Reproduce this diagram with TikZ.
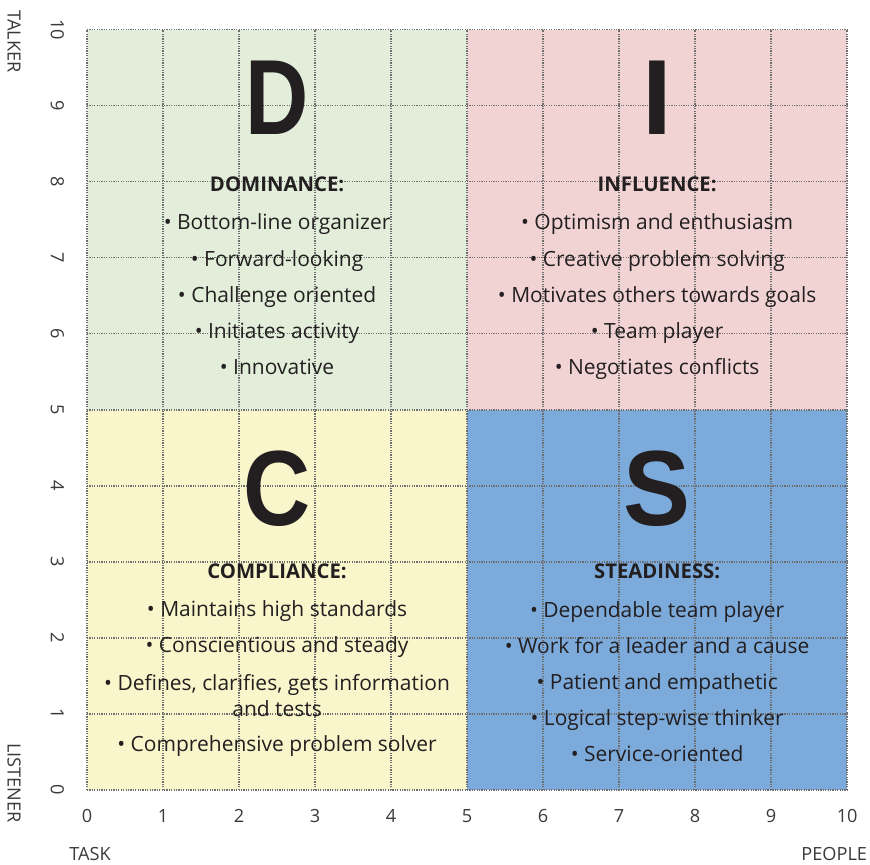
\documentclass[tikz,border=0pt]{standalone}
\usepackage{fontspec}
\usepackage{graphicx}
\setmainfont{Open Sans}
\newfontfamily\bigfont{Liberation Sans}
\usepackage{tikz}

\definecolor{domgreen}{HTML}{E2EEDA}
\definecolor{infpink}{HTML}{F1D3D4}
\definecolor{comyellow}{HTML}{FAF6CB}
\definecolor{stdblue}{HTML}{7BAADB}
\definecolor{ink}{HTML}{231F20}
\definecolor{gridgray}{HTML}{6E6E6E}
\definecolor{axisgray}{HTML}{3A3A3A}

\newcommand\squeeze[2]{\scalebox{#1}[1]{#2}}

\tikzset{
  gridline/.style={gridgray, line width=.6pt, dash pattern=on .45pt off .45pt},
  bigletter/.style={font=\bigfont\fontsize{40}{40}\selectfont\bfseries, text=ink},
  heading/.style={font=\fontsize{7.6}{9}\selectfont\bfseries, text=ink},
  itemtext/.style={font=\fontsize{7.85}{10}\selectfont, text=ink, align=center},
  item/.style={itemtext, text height=.75em, text depth=.25em},
  tick/.style={font=\fontsize{6.8}{7}\selectfont, text=axisgray},
}

\begin{document}
\begin{tikzpicture}
  \useasboundingbox (-1.145,-.984) rectangle (10.30,10.39);
  % quadrants
  \fill[domgreen] (0,5) rectangle (5,10);
  \fill[infpink] (5,5) rectangle (10,10);
  \fill[comyellow] (0,0) rectangle (5,5);
  \fill[stdblue] (5,0) rectangle (10,5);
  \foreach \i in {0,...,10} {
    \draw[gridline] (\i,0) -- (\i,10);
    \draw[gridline] (0,\i) -- (10,\i);
    \node (xt\i) [tick] at (\i,-.34) {\i};
    \node (yt\i) [tick,rotate=-90] at (-.39,\i) {\i};
  }
  \node (talker) [tick,rotate=-90] at (-.96,9.84) {TALKER};
  \node (listener) [tick,rotate=-90] at (-.96,.09) {LISTENER};
  \node (task) [tick] at (.04,-.85) {TASK};
  \node (people) [tick] at (9.83,-.85) {PEOPLE};

  % D
  \node (dl) [bigletter] at (2.5,9.1) {\squeeze{.82}{D}};
  \node (dh) [heading] at (2.5,7.97) {DOMINANCE:};
  \foreach \t [count=\k] in {Bottom-line organizer,Forward-looking,
      Challenge oriented,Initiates activity,Innovative}
    \node (d\k) [item] at (2.5,7.93-.476*\k) {\textbullet\ \t};

  % I
  \node (il) [bigletter] at (7.5,9.1) {I};
  \node (ih) [heading] at (7.5,7.97) {INFLUENCE:};
  \foreach \t [count=\k] in {Optimism and enthusiasm,Creative problem solving,
      Motivates others towards goals,Team player,Negotiates conflicts}
    \node (i\k) [item] at (7.5,7.93-.476*\k) {\textbullet\ \t};

  % C
  \node (cl) [bigletter] at (2.5,3.96) {\squeeze{.87}{C}};
  \node (ch) [heading] at (2.5,2.87) {COMPLIANCE:};
  \node (c1) [item] at (2.5,2.365) {\textbullet\ Maintains high standards};
  \node (c2) [item] at (2.5,1.89) {\textbullet\ Conscientious and steady};
  \node (c3) [itemtext] at (2.5,1.24) {\textbullet\ Defines, clarifies, gets information\\and tests};
  \node (c4) [item] at (2.5,.585) {\textbullet\ Comprehensive problem solver};

  % S
  \node (sl) [bigletter] at (7.5,3.96) {\squeeze{.94}{S}};
  \node (sh) [heading] at (7.5,2.87) {STEADINESS:};
  \foreach \t [count=\k] in {Dependable team player,Work for a leader and a cause,
      Patient and empathetic,Logical step-wise thinker,Service-oriented}
    \node (s\k) [item] at (7.5,2.835-.476*\k) {\textbullet\ \t};
\end{tikzpicture}
\end{document}
